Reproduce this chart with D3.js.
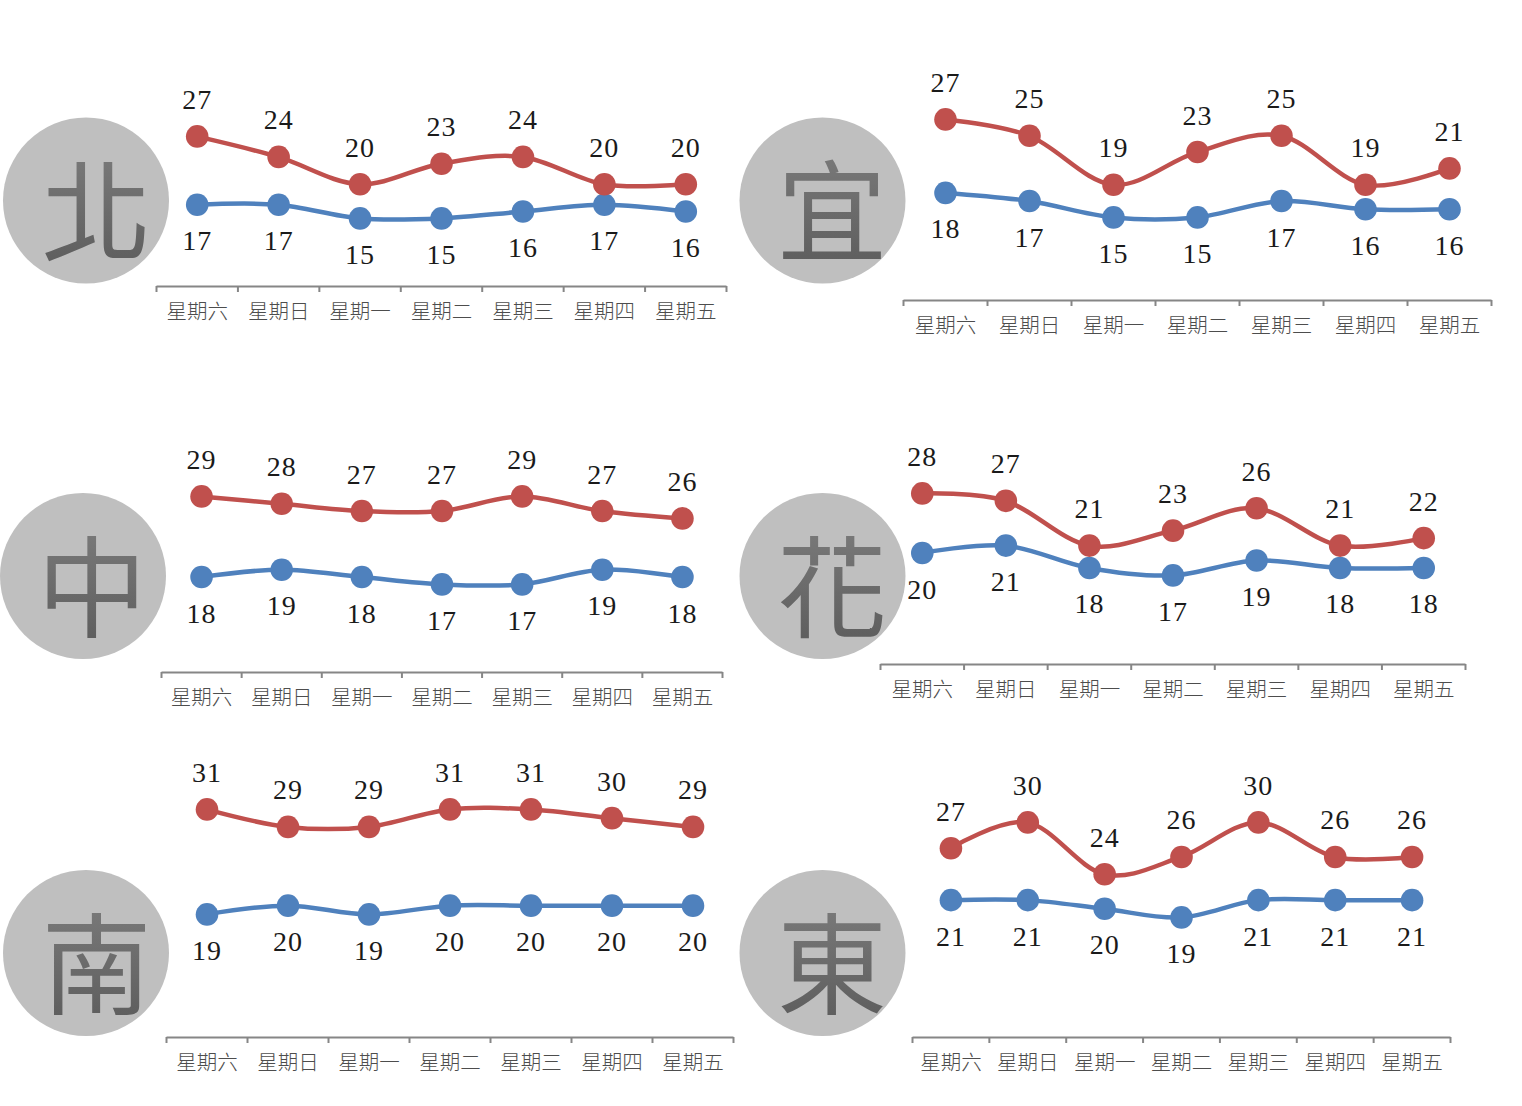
<!DOCTYPE html>
<html>
<head>
<meta charset="utf-8">
<script src="https://cdn.jsdelivr.net/npm/d3@7"></script>
<style>
html, body { margin: 0; padding: 0; background: #fff; }
svg { display: block; }
</style>
</head>
<body>
<div id="my_dataviz"></div>
<script>
const DAYS = ["星期六", "星期日", "星期一", "星期二", "星期三", "星期四", "星期五"];
const REGIONS = ["北", "宜", "中", "花", "南", "東"];

const HIGH_NORTH = [27, 24, 20, 23, 24, 20, 20];
const LOW_NORTH = [17, 17, 15, 15, 16, 17, 16];
const HIGH_YILAN = [27, 25, 19, 23, 25, 19, 21];
const LOW_YILAN = [18, 17, 15, 15, 17, 16, 16];
const HIGH_CENTRAL = [29, 28, 27, 27, 29, 27, 26];
const LOW_CENTRAL = [18, 19, 18, 17, 17, 19, 18];
const HIGH_HUALIEN = [28, 27, 21, 23, 26, 21, 22];
const LOW_HUALIEN = [20, 21, 18, 17, 19, 18, 18];
const HIGH_SOUTH = [31, 29, 29, 31, 31, 30, 29];
const LOW_SOUTH = [19, 20, 19, 20, 20, 20, 20];
const HIGH_EAST = [27, 30, 24, 26, 30, 26, 26];
const LOW_EAST = [21, 21, 20, 19, 21, 21, 21];

const HIGHS = [HIGH_NORTH, HIGH_YILAN, HIGH_CENTRAL, HIGH_HUALIEN, HIGH_SOUTH, HIGH_EAST];
const LOWS = [LOW_NORTH, LOW_YILAN, LOW_CENTRAL, LOW_HUALIEN, LOW_SOUTH, LOW_EAST];

// layout of each panel: axis span, axis y, y scale anchors, badge centre
const layout = [
	{ x0: 156, x1: 726, axisY: 286, dom: [15, 27], rng: [218.4, 136.4], cx: 86, cy: 200.5, gx: 96.5, gy: 205 },
	{ x0: 903, x1: 1491, axisY: 300, dom: [15, 27], rng: [217.4, 119.4], cx: 822.5, cy: 200.5, gx: 832, gy: 205 },
	{ x0: 161, x1: 722, axisY: 672, dom: [17, 29], rng: [584.4, 496.4], cx: 83, cy: 576, gx: 92, gy: 581 },
	{ x0: 880, x1: 1465, axisY: 664, dom: [17, 28], rng: [575.4, 493.4], cx: 822.5, cy: 576, gx: 832, gy: 581 },
	{ x0: 166, x1: 733, axisY: 1037, dom: [19, 31], rng: [914.4, 809.4], cx: 86, cy: 953, gx: 96.5, gy: 958 },
	{ x0: 912, x1: 1450, axisY: 1037, dom: [19, 30], rng: [917.4, 822.4], cx: 822.5, cy: 953, gx: 832, gy: 958 },
];

const RED = "#c0504d";
const BLUE = "#4f81bd";
const SERIF = "'Liberation Serif', 'Noto Sans CJK TC', serif";

var svg = d3
	.select("#my_dataviz")
	.append("svg")
	.attr("width", 1522)
	.attr("height", 1106);

var grad = svg
	.append("defs")
	.append("linearGradient")
	.attr("id", "glyphFill")
	.attr("x1", 0)
	.attr("y1", 0)
	.attr("x2", 0)
	.attr("y2", 1);
grad.append("stop").attr("offset", "0%").attr("stop-color", "#808080");
grad.append("stop").attr("offset", "100%").attr("stop-color", "#595959");

function drawSeries(g, values, x, y, color, labelDy) {
	var line = d3
		.line()
		.x(function (d, i) {
			return x(DAYS[i]);
		})
		.y(function (d) {
			return y(d);
		})
		.curve(d3.curveCardinal.tension(0));

	g.append("path")
		.attr("d", line(values))
		.attr("fill", "none")
		.attr("stroke", color)
		.attr("stroke-width", 4.5);

	g.selectAll("circle.pt")
		.data(values)
		.enter()
		.append("circle")
		.attr("cx", function (d, i) {
			return x(DAYS[i]) + 0.5;
		})
		.attr("cy", function (d) {
			return y(d);
		})
		.attr("r", 11.3)
		.attr("fill", color);

	g.selectAll("text.val")
		.data(values)
		.enter()
		.append("text")
		.attr("x", function (d, i) {
			return x(DAYS[i]) + 0.5;
		})
		.attr("y", function (d) {
			return y(d) + labelDy;
		})
		.attr("text-anchor", "middle")
		.style("font-family", SERIF)
		.style("font-size", "28px")
		.style("letter-spacing", "1px")
		.style("fill", "#1a1a1a")
		.text(function (d) {
			return d;
		});
}

layout.forEach(function (p, i) {
	var g = svg.append("g");

	// badge
	g.append("circle")
		.attr("cx", p.cx)
		.attr("cy", p.cy)
		.attr("r", 83)
		.attr("fill", "#bfbfbf");
	g.append("text")
		.attr("x", p.gx)
		.attr("y", p.gy)
		.attr("text-anchor", "middle")
		.attr("dominant-baseline", "central")
		.attr("fill", "url(#glyphFill)")
		.style("font-family", "'Noto Sans CJK TC'")
		.style("font-weight", 400)
		.style("font-size", "110px")
		.text(REGIONS[i]);

	var x = d3.scalePoint().domain(DAYS).range([p.x0, p.x1]).padding(0.5);
	var y = d3.scaleLinear().domain(p.dom).range(p.rng);
	var edges = d3.scaleLinear().domain([0, DAYS.length]).range([p.x0, p.x1]);

	// ticks fall on the category boundaries, labels sit between them
	var tickAxis = g
		.append("g")
		.attr("transform", "translate(0," + p.axisY + ")")
		.call(
			d3
				.axisBottom(edges)
				.tickValues(d3.range(DAYS.length + 1))
				.tickSize(6)
				.tickSizeOuter(0)
				.tickFormat("")
		);
	tickAxis.selectAll("path, line").attr("stroke", "#868686").attr("stroke-width", 2);

	var labelAxis = g
		.append("g")
		.attr("transform", "translate(0," + p.axisY + ")")
		.call(d3.axisBottom(x).tickSize(0).tickPadding(18.5));
	labelAxis.select("path").remove();
	labelAxis
		.selectAll("text")
		.style("font-family", "'Noto Sans CJK TC'")
		.style("font-weight", 300)
		.style("font-size", "20.5px")
		.style("fill", "#4d4d4d");

	drawSeries(g.append("g"), LOWS[i], x, y, BLUE, 45.5);
	drawSeries(g.append("g"), HIGHS[i], x, y, RED, -27.5);
});
</script>
</body>
</html>
